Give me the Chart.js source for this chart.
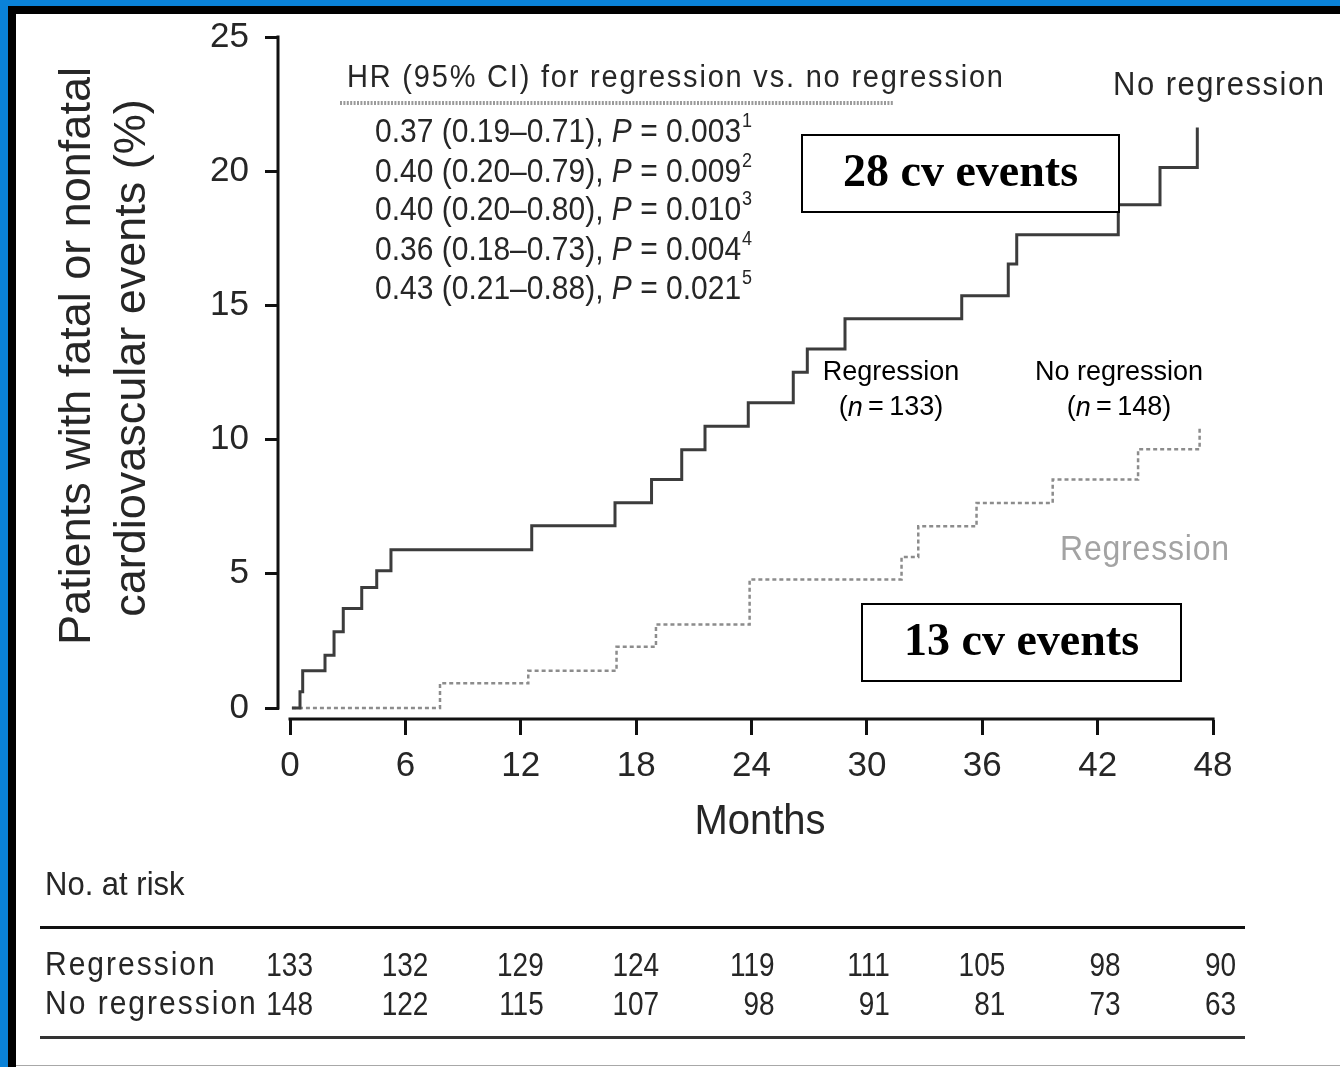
<!DOCTYPE html>
<html>
<head>
<meta charset="utf-8">
<title>Cardiovascular events by LVH regression</title>
<script src="https://cdn.jsdelivr.net/npm/chart.js@4.4.1/dist/chart.umd.min.js"></script>
<style>
  html, body { margin: 0; padding: 0; background: #ffffff; }
  #wrap { position: relative; width: 1340px; height: 1067px; overflow: hidden; }
  canvas { display: block; }
</style>
</head>
<body>
<div id="wrap"><canvas id="km" width="1340" height="1067"></canvas></div>
<script>
// Axis ticks
const yTicks = [0, 5, 10, 15, 20, 25];
const monthTicks = [0, 6, 12, 18, 24, 30, 36, 42, 48];

// Cumulative event curves (month of step, cumulative % after step)
const noRegMonths = [0.1, 0.52, 0.66, 1.82, 2.29, 2.77, 3.73, 4.51, 5.25, 12.57, 16.9, 18.8, 20.37, 21.58, 23.83, 26.17, 26.9, 28.86, 34.93, 37.35, 37.79, 43.07, 45.24, 47.18];
const noRegPct    = [0, 0.61, 1.39, 1.97, 2.84, 3.71, 4.49, 5.11, 5.90, 6.79, 7.65, 8.51, 9.62, 10.50, 11.37, 12.51, 13.38, 14.50, 15.36, 16.54, 17.63, 18.75, 20.14, 21.63];
const regMonths   = [0.1, 7.8, 12.39, 16.98, 19.03, 23.9, 31.8, 32.67, 35.7, 39.66, 44.1, 47.3];
const regPct      = [0, 0.92, 1.39, 2.28, 3.11, 4.79, 5.63, 6.77, 7.64, 8.51, 9.64, 10.47];

// Number at risk at each 6-month tick
const riskRegression   = [133, 132, 129, 124, 119, 111, 105, 98, 90];
const riskNoRegression = [148, 122, 115, 107, 98, 91, 81, 73, 63];

// Hazard ratios, regression vs. no regression
const hrEstimates = ['0.37', '0.40', '0.40', '0.36', '0.43'];
const hrLower     = ['0.19', '0.20', '0.20', '0.18', '0.21'];
const hrUpper     = ['0.71', '0.79', '0.80', '0.73', '0.88'];
const hrPValues   = ['0.003', '0.009', '0.010', '0.004', '0.021'];

// Group sizes and event counts
const groupN = { regression: 133, noRegression: 148 };
const cvEvents = { noRegression: 28, regression: 13 };

const SANS = '"Liberation Sans", Arial, sans-serif';
const SERIF = '"Liberation Serif", "Times New Roman", serif';

function toPoints(xs, ys) { return xs.map((x, i) => ({ x: x, y: ys[i] })); }

// Text helper with optional vertical stretch and letter spacing
function drawText(ctx, s, x, y, o) {
  ctx.save();
  ctx.font = o.font;
  ctx.fillStyle = o.color || '#222';
  ctx.textAlign = o.align || 'left';
  ctx.textBaseline = 'middle';
  ctx.letterSpacing = (o.ls || 0) + 'px';
  ctx.translate(x, y);
  ctx.scale(1, o.sy || 1);
  ctx.fillText(s, 0, 0);
  ctx.restore();
}

// Draw several differently styled pieces on one line; returns end x
function drawRuns(ctx, runs, x, y, align) {
  let widths = runs.map(r => { ctx.save(); ctx.font = r.font; ctx.letterSpacing = (r.ls || 0) + 'px'; const w = ctx.measureText(r.text).width; ctx.restore(); return w; });
  let total = widths.reduce((a, b) => a + b, 0);
  let cx = align === 'center' ? x - total / 2 : x;
  runs.forEach((r, i) => {
    drawText(ctx, r.text, cx, y + (r.dy || 0), { font: r.font, color: r.color, sy: r.sy, ls: r.ls });
    cx += widths[i];
  });
  return cx;
}

const framePlugin = {
  id: 'frame',
  beforeDraw(chart) {
    const ctx = chart.ctx;
    const W = chart.width, H = chart.height;
    ctx.save();
    ctx.fillStyle = '#ffffff';
    ctx.fillRect(0, 0, W, H);
    ctx.fillStyle = '#0a82d8';
    ctx.fillRect(0, 0, W, 6);
    ctx.fillRect(0, 0, 8, H);
    ctx.fillStyle = '#000000';
    ctx.fillRect(8, 6, W - 8, 8);
    ctx.fillRect(8, 6, 8, H - 6);
    ctx.fillStyle = '#a8a8a8';
    ctx.fillRect(16, H - 2, W - 16, 1);
    ctx.restore();
  }
};

const axesPlugin = {
  id: 'axesLines',
  afterDraw(chart) {
    const ctx = chart.ctx;
    const xs = chart.scales.x, ys = chart.scales.y;
    const area = chart.chartArea;
    ctx.save();
    ctx.strokeStyle = '#111';
    ctx.lineWidth = 3;
    ctx.lineCap = 'butt';
    // vertical axis runs from 0 to 25 only
    ctx.beginPath();
    ctx.moveTo(area.left - 1, ys.getPixelForValue(yTicks[yTicks.length - 1]) - 1.5);
    ctx.lineTo(area.left - 1, ys.getPixelForValue(0) + 1.5);
    ctx.stroke();
    // horizontal axis sits below the zero level
    ctx.beginPath();
    ctx.moveTo(xs.getPixelForValue(monthTicks[0]) - 1.5, area.bottom - 1);
    ctx.lineTo(xs.getPixelForValue(monthTicks[monthTicks.length - 1]) + 1.5, area.bottom - 1);
    ctx.stroke();
    ctx.restore();
  }
};

const annotationPlugin = {
  id: 'annotations',
  afterDraw(chart) {
    const ctx = chart.ctx;
    const xs = chart.scales.x;
    const dark = '#262626';

    // y-axis title, two rotated lines
    ctx.save();
    ctx.translate(78, 356);
    ctx.rotate(-Math.PI / 2);
    drawText(ctx, 'Patients with fatal or nonfatal', 0, 0, { font: '45px ' + SANS, color: dark, align: 'center' });
    ctx.restore();
    ctx.save();
    ctx.translate(133, 358);
    ctx.rotate(-Math.PI / 2);
    drawText(ctx, 'cardiovascular events (%)', 0, 0, { font: '45px ' + SANS, color: dark, align: 'center' });
    ctx.restore();

    // x-axis title
    drawText(ctx, 'Months', 760, 822, { font: '40px ' + SANS, color: dark, align: 'center', sy: 1.08 });

    // Hazard ratio block
    drawText(ctx, 'HR (95% CI) for regression vs. no regression', 347, 78, { font: '29px ' + SANS, color: dark, sy: 1.1, ls: 1.8 });
    ctx.save();
    ctx.strokeStyle = '#9a9a9a';
    ctx.lineWidth = 4;
    ctx.setLineDash([2, 1.4]);
    ctx.beginPath();
    ctx.moveTo(340, 103);
    ctx.lineTo(893, 103);
    ctx.stroke();
    ctx.restore();
    const rowY = [133, 173, 211, 251, 290];
    hrEstimates.forEach((hr, i) => {
      const f = '30px ' + SANS;
      const endX = drawRuns(ctx, [
        { text: hr + ' (' + hrLower[i] + '\u2013' + hrUpper[i] + '), ', font: f, color: dark, sy: 1.12 },
        { text: 'P', font: 'italic 30px ' + SANS, color: dark, sy: 1.12 },
        { text: ' = ' + hrPValues[i], font: f, color: dark, sy: 1.12 }
      ], 375, rowY[i], 'left');
      drawText(ctx, String(i + 1), endX + 1, rowY[i] - 12, { font: '18px ' + SANS, color: dark, sy: 1.12 });
    });

    // Curve labels
    drawText(ctx, 'No regression', 1113, 86, { font: '31px ' + SANS, color: dark, sy: 1.1, ls: 1.5 });
    drawText(ctx, 'Regression', 1060, 550, { font: '32px ' + SANS, color: '#a3a3a3', sy: 1.08, ls: 0.8 });

    // Group labels
    const lf = '27px ' + SANS;
    drawText(ctx, 'Regression', 891, 373, { font: lf, color: '#000', align: 'center' });
    drawRuns(ctx, [
      { text: '(', font: lf, color: '#000' },
      { text: 'n', font: 'italic ' + lf, color: '#000' },
      { text: '\u2009=\u2009' + groupN.regression + ')', font: lf, color: '#000' }
    ], 891, 408, 'center');
    drawText(ctx, 'No regression', 1119, 373, { font: lf, color: '#000', align: 'center' });
    drawRuns(ctx, [
      { text: '(', font: lf, color: '#000' },
      { text: 'n', font: 'italic ' + lf, color: '#000' },
      { text: '\u2009=\u2009' + groupN.noRegression + ')', font: lf, color: '#000' }
    ], 1119, 408, 'center');

    // Event count boxes
    function eventBox(x0, y0, x1, y1, count) {
      ctx.save();
      ctx.fillStyle = '#fff';
      ctx.fillRect(x0, y0, x1 - x0, y1 - y0);
      ctx.strokeStyle = '#000';
      ctx.lineWidth = 2;
      ctx.strokeRect(x0, y0, x1 - x0, y1 - y0);
      ctx.restore();
      drawText(ctx, count + ' cv events', (x0 + x1) / 2, (y0 + y1) / 2 + 1, { font: 'bold 46px ' + SERIF, color: '#000', align: 'center' });
    }
    eventBox(802, 135, 1119, 212, cvEvents.noRegression);
    eventBox(862, 604, 1181, 681, cvEvents.regression);

    // Number at risk table
    drawText(ctx, 'No. at risk', 45, 886, { font: '31px ' + SANS, color: dark, sy: 1.1 });
    ctx.save();
    ctx.fillStyle = '#111';
    ctx.fillRect(40, 926, 1205, 3);
    ctx.fillStyle = '#333';
    ctx.fillRect(40, 1036, 1205, 3);
    ctx.restore();
    drawText(ctx, 'Regression', 45, 966, { font: '30px ' + SANS, color: dark, sy: 1.12, ls: 2 });
    drawText(ctx, 'No regression', 45, 1005, { font: '30px ' + SANS, color: dark, sy: 1.12, ls: 2 });
    monthTicks.forEach((m, i) => {
      const px = xs.getPixelForValue(m) + 23;
      drawText(ctx, String(riskRegression[i]), px, 967, { font: '28px ' + SANS, color: dark, align: 'right', sy: 1.2 });
      drawText(ctx, String(riskNoRegression[i]), px, 1006, { font: '28px ' + SANS, color: dark, align: 'right', sy: 1.2 });
    });
  }
};

new Chart(document.getElementById('km'), {
  type: 'line',
  data: {
    datasets: [
      {
        label: 'No regression',
        data: toPoints(noRegMonths, noRegPct),
        stepped: 'before',
        borderColor: '#3c3c3c',
        borderWidth: 3,
        pointRadius: 0,
        fill: false
      },
      {
        label: 'Regression',
        data: toPoints(regMonths, regPct),
        stepped: 'before',
        borderColor: '#8c8c8c',
        borderWidth: 2.5,
        borderDash: [4, 3],
        pointRadius: 0,
        fill: false
      }
    ]
  },
  options: {
    responsive: false,
    animation: false,
    devicePixelRatio: 1,
    layout: { padding: { left: 0, top: 36, right: 125, bottom: 221 } },
    plugins: { legend: { display: false }, tooltip: { enabled: false } },
    scales: {
      x: {
        type: 'linear',
        min: -0.572,
        max: 48.1,
        afterBuildTicks(scale) { scale.ticks = monthTicks.map(v => ({ value: v })); },
        afterFit(scale) { scale.height = 126; },
        border: { display: false },
        grid: { drawOnChartArea: false, drawTicks: true, tickLength: 15, tickWidth: 3, tickColor: '#111' },
        ticks: { font: { family: SANS, size: 35 }, color: '#262626', padding: 10, maxRotation: 0, autoSkip: false }
      },
      y: {
        type: 'linear',
        min: -0.446,
        max: 25,
        afterBuildTicks(scale) { scale.ticks = yTicks.map(v => ({ value: v })); },
        afterFit(scale) { scale.width = 279; },
        border: { display: false },
        grid: { drawOnChartArea: false, drawTicks: true, tickLength: 14, tickWidth: 3, tickColor: '#111' },
        ticks: { font: { family: SANS, size: 35 }, color: '#262626', padding: 16, autoSkip: false }
      }
    }
  },
  plugins: [framePlugin, axesPlugin, annotationPlugin]
});
</script>
</body>
</html>
